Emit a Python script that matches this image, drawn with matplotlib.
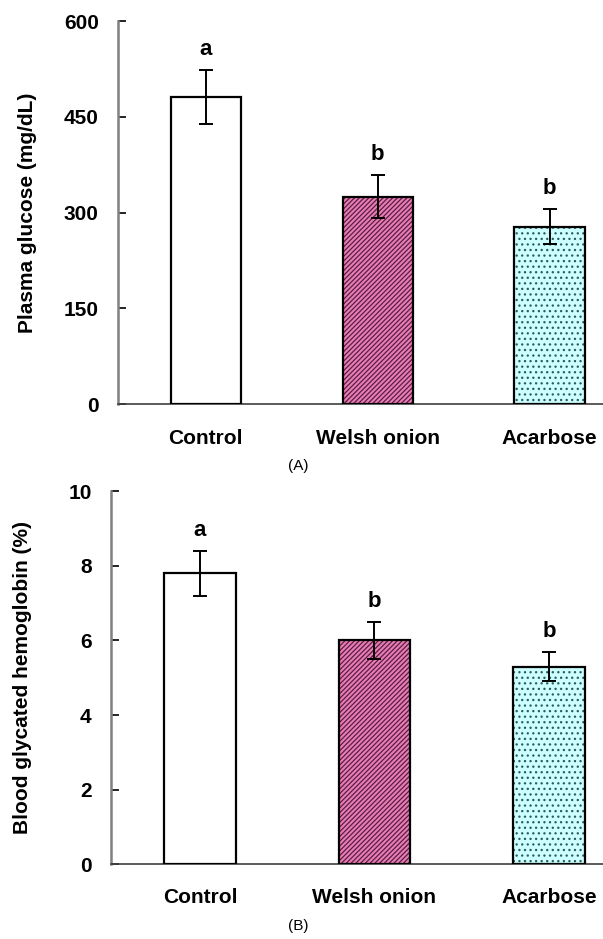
import numpy as np
import matplotlib
matplotlib.use('Agg')
from matplotlib import pyplot as plt

plt.rcParams['font.family'] = ['Liberation Sans', 'DejaVu Sans']
plt.rcParams['hatch.linewidth'] = 0.9

groups = ['Control', 'Welsh onion', 'Acarbose']

glucose = [481, 325, 278]
glucose_err = [43, 34, 28]
glucose_letters = ['a', 'b', 'b']

hba1c = [7.8, 6.0, 5.3]
hba1c_err = [0.6, 0.5, 0.4]
hba1c_letters = ['a', 'b', 'b']

fills = ['white', '#E87CB8', '#CCFFFF']
hatches = [None, '///////', '...']
hatch_cols = ['black', '#5A1E3C', '#2E5A5A']

fig = plt.figure(figsize=(6.03, 9.39), dpi=100)
FS = 15

def panel(rect, vals, errs, letters, ylim, yticks, ylabel, ypad, letter_off, xpad, caption, cap_y):
    ax = fig.add_axes(rect)
    x = np.arange(len(groups))
    for i in range(len(groups)):
        ax.bar(x[i], vals[i], width=0.41, color=fills[i], edgecolor=hatch_cols[i],
               hatch=hatches[i], linewidth=0, zorder=2)
        ax.bar(x[i], vals[i], width=0.41, fill=False, edgecolor='black',
               linewidth=1.6, zorder=3)
    ax.errorbar(x, vals, yerr=errs, fmt='none', ecolor='black', elinewidth=1.4,
                capsize=5, capthick=1.4, zorder=4)
    for i in range(len(groups)):
        ax.text(x[i], vals[i] + errs[i] + letter_off, letters[i], ha='center',
                va='bottom', fontsize=FS + 1, fontweight='bold')
    ax.set_xlim(-0.51, 2.31)
    ax.set_ylim(*ylim)
    ax.set_yticks(yticks)
    ax.set_xticks(x)
    ax.set_xticklabels(groups, fontsize=FS, fontweight='bold')
    ax.tick_params(axis='x', length=0, pad=xpad)
    ax.tick_params(axis='y', direction='in', length=6, width=1.2, pad=14, labelsize=FS)
    for t in ax.get_yticklabels():
        t.set_fontweight('bold')
    ax.set_ylabel(ylabel, fontsize=FS, fontweight='bold', labelpad=ypad)
    ax.spines['top'].set_visible(False)
    ax.spines['right'].set_visible(False)
    ax.spines['left'].set_color('#808080')
    ax.spines['left'].set_linewidth(1.8)
    ax.spines['bottom'].set_color('#404040')
    ax.spines['bottom'].set_linewidth(1.2)
    fig.text(0.495, cap_y, caption, ha='center', va='center', fontsize=11)
    return ax

panel([0.196, 0.5697, 0.804, 0.4079], glucose, glucose_err, glucose_letters,
      (0, 600), [0, 150, 300, 450, 600], 'Plasma glucose (mg/dL)', 19, 15, 18,
      '(A)', 1 - 466 / 939)

panel([0.184, 0.0795, 0.816, 0.3975], hba1c, hba1c_err, hba1c_letters,
      (0, 10), [0, 2, 4, 6, 8, 10], 'Blood glycated hemoglobin (%)', 26, 0.26, 17,
      '(B)', 1 - 926 / 939)

fig.savefig('out.png', dpi=100)
